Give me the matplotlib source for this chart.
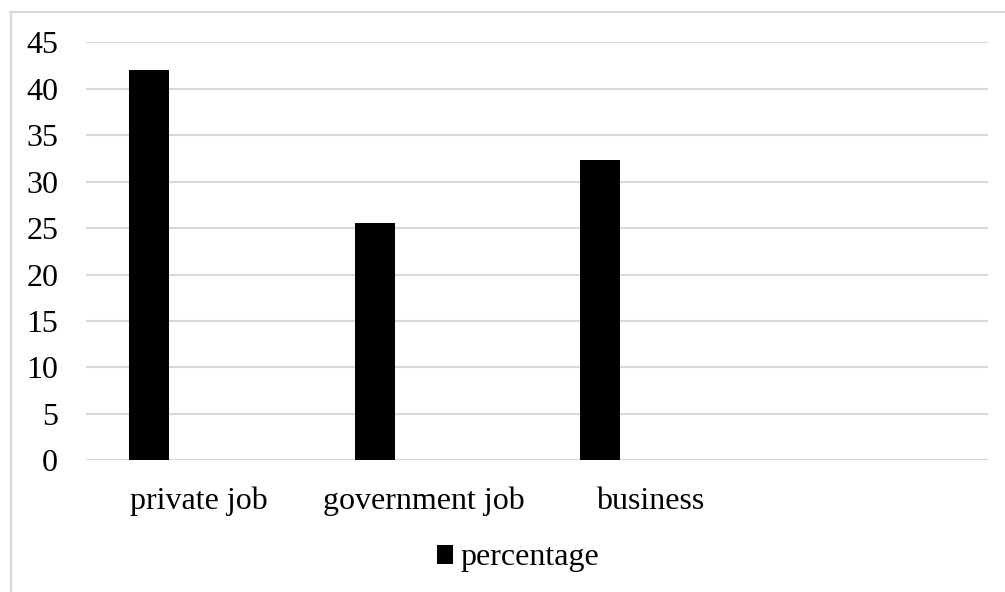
import numpy as np
import matplotlib.pyplot as plt
from matplotlib.lines import Line2D
from matplotlib.patches import Patch

# data (4th category slot is empty)
categories = ["private job", "government job", "business", ""]
percentage = [42.0, 25.6, 32.3, np.nan]
y_ticks = [0, 5, 10, 15, 20, 25, 30, 35, 40, 45]

plt.rcParams['font.family'] = ['Liberation Serif', 'DejaVu Serif']

W, H = 1005, 592
fig = plt.figure(figsize=(W / 100, H / 100), dpi=100)
ax = fig.add_axes([86 / W, 1 - 460.3 / H, (988 - 86) / W, (460.3 - 42.3) / H])

x = np.arange(len(categories))
ax.bar(x - 0.22, percentage, width=0.177, color='black', zorder=3)

ax.set_xlim(-0.5, len(categories) - 0.5)
ax.set_ylim(0, 45)
ax.set_yticks(y_ticks)
ax.set_xticks(x)
ax.set_xticklabels(categories)
ax.yaxis.grid(True, color='#d9d9d9', linewidth=1.5, zorder=0)
ax.set_axisbelow(True)
for s in ax.spines.values():
    s.set_visible(False)
ax.tick_params(axis='both', length=0, labelsize=23, colors='black')
ax.tick_params(axis='y', pad=20)
ax.tick_params(axis='x', pad=19)

handles = [Patch(facecolor='black', label='percentage')]
fig.legend(handles=handles, loc='center', bbox_to_anchor=(518 / W, 1 - 558 / H),
           frameon=False, fontsize=23, handlelength=0.5, handleheight=0.55,
           handletextpad=0.25)

# outer chart border (left and top edges visible)
fig.add_artist(Line2D([10.5 / W, 10.5 / W], [0, 1 - 12 / H], color='#d9d9d9', linewidth=1.5))
fig.add_artist(Line2D([10 / W, 1], [1 - 12 / H, 1 - 12 / H], color='#d9d9d9', linewidth=1.5))

fig.savefig('out.png', dpi=100, facecolor='white')
